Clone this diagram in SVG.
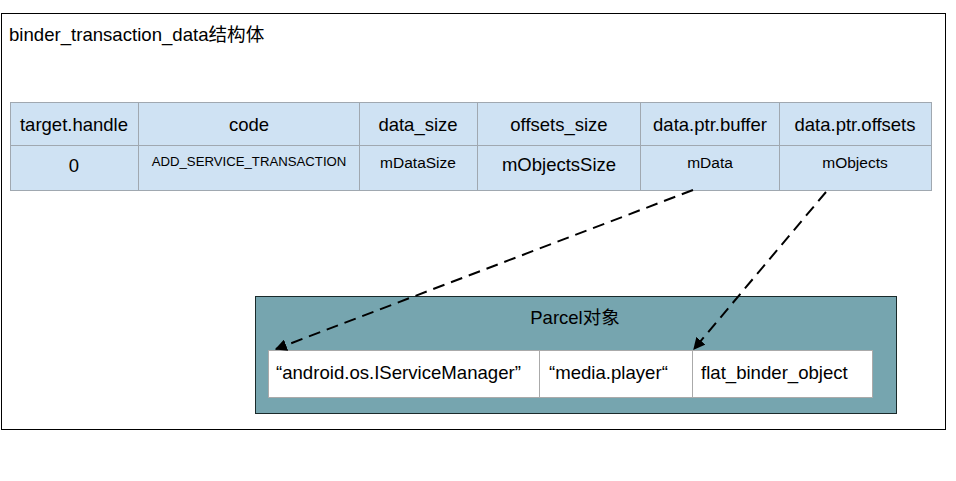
<svg xmlns="http://www.w3.org/2000/svg" width="956" height="481" viewBox="0 0 956 481">
<defs>
<style>
.t{font-family:"Liberation Sans","Noto Sans CJK SC",Arial,sans-serif;fill:#000}
.c{text-anchor:middle}
.cell{fill:#cfe2f3;stroke:#a0a8b0;stroke-width:1}
.pc{fill:#fff;stroke:#aaa;stroke-width:1}
.ar{fill:none;stroke:#000;stroke-width:2;stroke-dasharray:12,7}
</style>
<marker id="ah" viewBox="0 0 10 10" refX="9" refY="5" markerWidth="6" markerHeight="6" orient="auto" markerUnits="strokeWidth">
<path d="M0,0 L10,5 L0,10 z" fill="#000"/>
</marker>
</defs>
<rect x="0" y="0" width="956" height="481" fill="#fff"/>
<g id="outer">
<rect x="1.5" y="13.5" width="944" height="416" fill="#fff" stroke="#000" stroke-width="1"/>
<text class="t" x="9" y="41" font-size="18.6">binder_transaction_data结构体</text>
</g>
<g id="table">
<rect class="cell" x="10.5" y="102.5" width="128" height="43"/>
<rect class="cell" x="138.5" y="102.5" width="221" height="43"/>
<rect class="cell" x="359.5" y="102.5" width="118" height="43"/>
<rect class="cell" x="477.5" y="102.5" width="163" height="43"/>
<rect class="cell" x="640.5" y="102.5" width="139" height="43"/>
<rect class="cell" x="779.5" y="102.5" width="152" height="43"/>
<rect class="cell" x="10.5" y="145.5" width="128" height="45"/>
<rect class="cell" x="138.5" y="145.5" width="221" height="45"/>
<rect class="cell" x="359.5" y="145.5" width="118" height="45"/>
<rect class="cell" x="477.5" y="145.5" width="163" height="45"/>
<rect class="cell" x="640.5" y="145.5" width="139" height="45"/>
<rect class="cell" x="779.5" y="145.5" width="152" height="45"/>
<text class="t c" x="74" y="131" font-size="18.5">target.handle</text>
<text class="t c" x="249" y="131" font-size="18.5">code</text>
<text class="t c" x="418" y="131" font-size="18.5">data_size</text>
<text class="t c" x="559" y="131" font-size="18.5">offsets_size</text>
<text class="t c" x="710" y="131" font-size="18.5">data.ptr.buffer</text>
<text class="t c" x="855" y="131" font-size="18.5">data.ptr.offsets</text>
<text class="t c" x="74" y="172" font-size="18.5">0</text>
<text class="t c" x="249" y="166" font-size="13.2">ADD_SERVICE_TRANSACTION</text>
<text class="t c" x="418" y="168" font-size="15.5">mDataSize</text>
<text class="t c" x="559" y="171" font-size="18.5">mObjectsSize</text>
<text class="t c" x="710" y="168" font-size="15.5">mData</text>
<text class="t c" x="855" y="168" font-size="15.5">mObjects</text>
</g>
<g id="parcel">
<rect x="255.5" y="296.5" width="641" height="117" fill="#76a5af" stroke="#1a2a2a" stroke-width="1"/>
<text class="t c" x="575" y="324" font-size="18.5">Parcel对象</text>
<rect class="pc" x="268.5" y="350.5" width="271" height="47"/>
<rect class="pc" x="539.5" y="350.5" width="153" height="47"/>
<rect class="pc" x="692.5" y="350.5" width="180" height="47"/>
<text class="t" x="276" y="379" font-size="18.6">“android.os.IServiceManager”</text>
<text class="t" x="549" y="379" font-size="18.6">“media.player“</text>
<text class="t" x="701" y="379" font-size="18.6">flat_binder_object</text>
</g>
<g id="connectors">
<path class="ar" d="M693,190 L276,349" marker-end="url(#ah)"/>
<path class="ar" d="M826,192 L694,349" marker-end="url(#ah)"/>
</g>
</svg>
